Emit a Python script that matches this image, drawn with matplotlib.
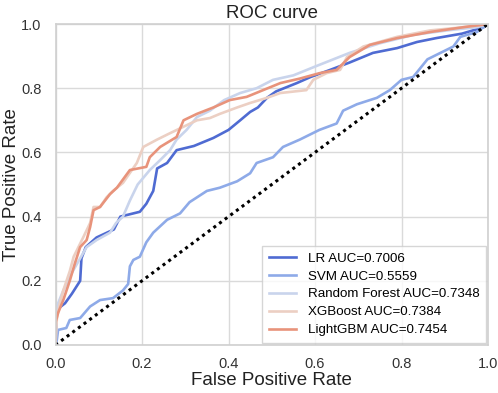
import matplotlib
matplotlib.use("Agg")
import matplotlib.pyplot as plt

plt.rcParams['font.family'] = ['Liberation Sans', 'DejaVu Sans']

labels = ["LR AUC=0.7006", "SVM AUC=0.5559", "Random Forest AUC=0.7348",
          "XGBoost AUC=0.7384", "LightGBM AUC=0.7454"]
colors = ["#4f6bd2", "#8eaae8", "#c9d4ec", "#eccfc3", "#e8937b"]

lr_fpr = [0, 0.003, 0.022, 0.038, 0.057, 0.06, 0.07, 0.095, 0.135, 0.15, 0.195, 0.21, 0.226, 0.235,
          0.258, 0.28, 0.32, 0.365, 0.40, 0.427, 0.45, 0.468, 0.489, 0.51, 0.558, 0.59, 0.635,
          0.68, 0.734, 0.79, 0.836, 0.88, 0.94, 0.99, 1.0]
lr_tpr = [0, 0.11, 0.13, 0.16, 0.20, 0.27, 0.305, 0.335, 0.36, 0.40, 0.415, 0.44, 0.48, 0.55,
          0.567, 0.607, 0.62, 0.645, 0.67, 0.70, 0.726, 0.74, 0.77, 0.79, 0.816, 0.835, 0.857,
          0.88, 0.91, 0.925, 0.944, 0.956, 0.97, 0.99, 1.0]

svm_fpr = [0, 0.003, 0.006, 0.025, 0.033, 0.057, 0.08, 0.103, 0.133, 0.156, 0.168, 0.172, 0.18,
           0.195, 0.21, 0.226, 0.258, 0.288, 0.31, 0.35, 0.38, 0.42, 0.45, 0.465, 0.503, 0.526,
           0.565, 0.61, 0.65, 0.665, 0.697, 0.743, 0.773, 0.80, 0.827, 0.86, 0.89, 0.92, 0.936,
           0.974, 1.0]
svm_tpr = [0, 0.015, 0.047, 0.053, 0.078, 0.084, 0.12, 0.14, 0.146, 0.17, 0.19, 0.245, 0.265,
           0.275, 0.32, 0.35, 0.39, 0.41, 0.445, 0.48, 0.49, 0.51, 0.535, 0.567, 0.585, 0.617,
           0.64, 0.67, 0.69, 0.73, 0.75, 0.77, 0.794, 0.826, 0.835, 0.89, 0.91, 0.93, 0.96,
           0.975, 1.0]

rf_fpr = [0, 0.003, 0.018, 0.04, 0.057, 0.072, 0.095, 0.126, 0.14, 0.156, 0.172, 0.19, 0.218,
          0.242, 0.265, 0.28, 0.303, 0.327, 0.357, 0.39, 0.427, 0.465, 0.503, 0.55, 0.605, 0.68,
          0.75, 0.827, 0.905, 0.974, 1.0]
rf_tpr = [0, 0.12, 0.17, 0.23, 0.27, 0.305, 0.327, 0.35, 0.38, 0.40, 0.45, 0.50, 0.545,
          0.576, 0.607, 0.64, 0.67, 0.71, 0.73, 0.763, 0.785, 0.80, 0.826, 0.84, 0.87, 0.91,
          0.94, 0.966, 0.98, 0.99, 1.0]

xgb_fpr = [0, 0.003, 0.01, 0.018, 0.033, 0.042, 0.064, 0.08, 0.088, 0.103, 0.118, 0.133, 0.156,
           0.188, 0.203, 0.235, 0.265, 0.296, 0.327, 0.357, 0.38, 0.42, 0.45, 0.489, 0.52, 0.58,
           0.596, 0.627, 0.658, 0.674, 0.712, 0.79, 0.866, 0.943, 1.0]
xgb_tpr = [0, 0.08, 0.13, 0.17, 0.23, 0.275, 0.335, 0.38, 0.43, 0.43, 0.46, 0.48, 0.505,
           0.567, 0.617, 0.64, 0.66, 0.68, 0.70, 0.707, 0.72, 0.74, 0.754, 0.77, 0.785, 0.794,
           0.826, 0.847, 0.857, 0.897, 0.93, 0.96, 0.98, 0.99, 1.0]

lgb_fpr = [0, 0.0, 0.006, 0.018, 0.033, 0.045, 0.057, 0.072, 0.08, 0.088, 0.103, 0.126, 0.142,
           0.172, 0.21, 0.218, 0.242, 0.28, 0.296, 0.327, 0.365, 0.403, 0.442, 0.48, 0.52, 0.565,
           0.611, 0.65, 0.68, 0.727, 0.79, 0.866, 0.943, 1.0]
lgb_tpr = [0, 0.07, 0.10, 0.14, 0.20, 0.255, 0.305, 0.327, 0.367, 0.42, 0.43, 0.47, 0.49,
           0.545, 0.555, 0.585, 0.617, 0.648, 0.70, 0.72, 0.74, 0.763, 0.773, 0.794, 0.816, 0.83,
           0.847, 0.857, 0.897, 0.935, 0.956, 0.975, 0.99, 1.0]

curves = [(lr_fpr, lr_tpr), (svm_fpr, svm_tpr), (rf_fpr, rf_tpr), (xgb_fpr, xgb_tpr), (lgb_fpr, lgb_tpr)]

fig = plt.figure(figsize=(4.98, 3.93), dpi=100)
ax = fig.add_axes([55.5/498, 48/393, 432.5/498, 321/393])
ax.set_facecolor("white")
ax.grid(True, color="#dadada", linewidth=1.0)
ax.set_axisbelow(True)
for s in ax.spines.values():
    s.set_color("#d0d0d0")
    s.set_linewidth(1.2)

for (f, t), c, l in zip(curves, colors, labels):
    ax.plot(f, t, color=c, linewidth=1.9, label=l)

ax.plot([0, 1], [0, 1], color="black", linestyle=(0, (1, 1.3)), linewidth=2.2)

ax.set_xlim(0, 1)
ax.set_ylim(0, 1)
ax.set_xticks([0, 0.2, 0.4, 0.6, 0.8, 1.0])
ax.set_yticks([0, 0.2, 0.4, 0.6, 0.8, 1.0])
ax.set_xticklabels(["0.0", "0.2", "0.4", "0.6", "0.8", "1.0"])
ax.set_yticklabels(["0.0", "0.2", "0.4", "0.6", "0.8", "1.0"])
ax.tick_params(axis="x", length=0, labelsize=10.5, labelcolor="#333333", pad=8.5)
ax.tick_params(axis="y", length=0, labelsize=10.5, labelcolor="#333333", pad=10)

ax.set_xlabel("False Positive Rate", fontsize=13.5, color="#222222", labelpad=1)
ax.set_ylabel("True Positive Rate", fontsize=13.5, color="#222222", labelpad=1)
ax.set_title("ROC curve", fontsize=13.4, color="#222222", pad=4)

leg = ax.legend(loc="lower right", fontsize=9.6, frameon=True, fancybox=False,
                handlelength=2.0, handletextpad=0.9, borderpad=0.5, labelspacing=0.42,
                borderaxespad=0.15)
leg.get_frame().set_edgecolor("#cccccc")
leg.get_frame().set_linewidth(1.0)

fig.savefig("out.png", dpi=100, facecolor="white")
